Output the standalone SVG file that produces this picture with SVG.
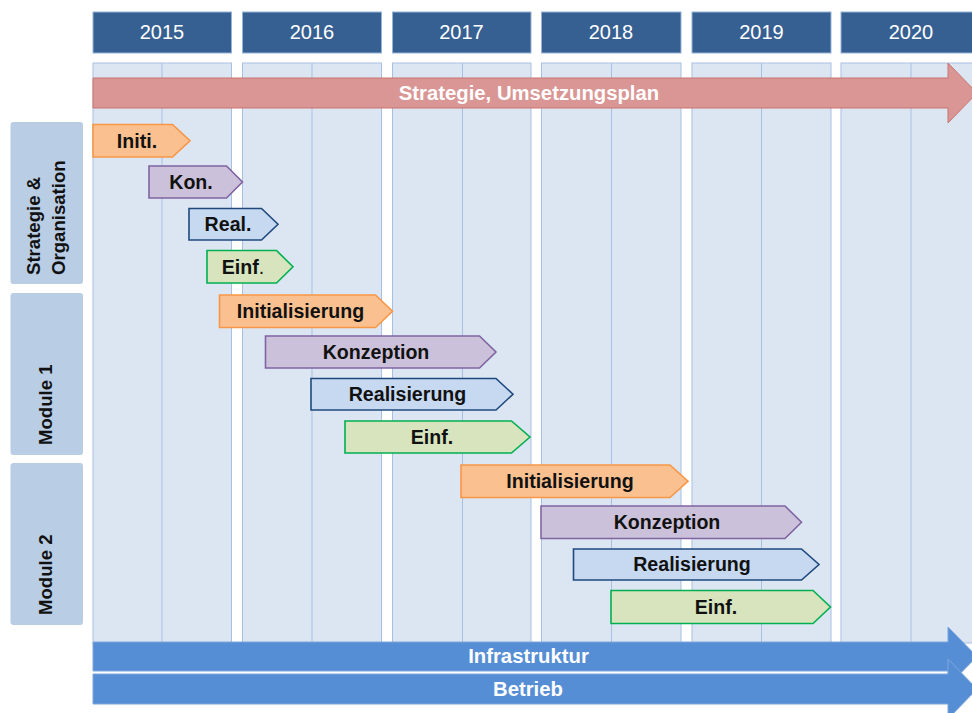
<svg xmlns="http://www.w3.org/2000/svg" width="972" height="713" viewBox="0 0 972 713">
<style>
.yr{fill:#376092;stroke:#95b3d7;stroke-width:1}
.yt{font-family:"Liberation Sans",Arial,sans-serif;font-size:20px;fill:#fff;text-anchor:middle}
.col{fill:#dce6f2;stroke:#a7c0e2;stroke-width:1}
.mid{stroke:#a7c0e2;stroke-width:1}
.lab{fill:#b9cde5}
.lt{font-family:"Liberation Sans",Arial,sans-serif;font-size:18.6px;font-weight:bold;fill:#111}
.ct{font-family:"Liberation Sans",Arial,sans-serif;font-size:19.6px;font-weight:bold;fill:#111;text-anchor:middle}
.wt{font-family:"Liberation Sans",Arial,sans-serif;font-size:20.3px;font-weight:bold;fill:#fff;text-anchor:middle}
.or{fill:#fac090;stroke:#f79646;stroke-width:1.6}
.pu{fill:#ccc1da;stroke:#8064a2;stroke-width:1.6}
.bl{fill:#c6d9f1;stroke:#1f497d;stroke-width:1.6}
.gr{fill:#d7e4bd;stroke:#00b050;stroke-width:1.6}
.red{fill:#d99694;stroke:#c87572;stroke-width:1}
.blu{fill:#558ed5;stroke:#7ea6dc;stroke-width:1}
</style>

<g id="columns">
<rect class="col" x="93" y="63" width="138.5" height="580"/>
<line class="mid" x1="162" y1="63" x2="162" y2="643"/>
<rect class="col" x="242.5" y="63" width="139" height="580"/>
<line class="mid" x1="312" y1="63" x2="312" y2="643"/>
<rect class="col" x="392.5" y="63" width="138.5" height="580"/>
<line class="mid" x1="462.5" y1="63" x2="462.5" y2="643"/>
<rect class="col" x="541.5" y="63" width="139.5" height="580"/>
<line class="mid" x1="611.5" y1="63" x2="611.5" y2="643"/>
<rect class="col" x="692" y="63" width="139" height="580"/>
<line class="mid" x1="761.5" y1="63" x2="761.5" y2="643"/>
<rect class="col" x="841" y="63" width="140" height="580"/>
<line class="mid" x1="911" y1="63" x2="911" y2="643"/>
</g>

<g id="years">
<g id="y2015"><rect class="yr" x="93" y="12" width="138.5" height="41"/><text class="yt" x="162" y="39">2015</text></g>
<g id="y2016"><rect class="yr" x="242.5" y="12" width="139" height="41"/><text class="yt" x="312" y="39">2016</text></g>
<g id="y2017"><rect class="yr" x="392.5" y="12" width="138.5" height="41"/><text class="yt" x="461.5" y="39">2017</text></g>
<g id="y2018"><rect class="yr" x="541.5" y="12" width="139.5" height="41"/><text class="yt" x="611" y="39">2018</text></g>
<g id="y2019"><rect class="yr" x="692" y="12" width="139" height="41"/><text class="yt" x="761.5" y="39">2019</text></g>
<g id="y2020"><rect class="yr" x="841" y="12" width="140" height="41"/><text class="yt" x="911" y="39">2020</text></g>
</g>

<g id="labels">
<g id="lab-so"><rect class="lab" x="10.5" y="122" width="72.5" height="162" rx="3"/>
<text class="lt" transform="translate(40,275) rotate(-90)">Strategie &amp;</text>
<text class="lt" transform="translate(65,275) rotate(-90)">Organisation</text></g>
<g id="lab-m1"><rect class="lab" x="10.5" y="293" width="72.5" height="162" rx="3"/>
<text class="lt" transform="translate(52,445) rotate(-90)">Module 1</text></g>
<g id="lab-m2"><rect class="lab" x="10.5" y="463" width="72.5" height="162" rx="3"/>
<text class="lt" transform="translate(52,615) rotate(-90)">Module 2</text></g>
</g>

<g id="strategy">
<path class="red" d="M93,78 H948 V63 L977,93 L948,123 V108 H93 Z"/>
<text class="wt" x="529" y="100">Strategie, Umsetzungsplan</text>
</g>

<g id="phases">
<g id="so-init"><path class="or" d="M93,124.5 H172.5 L190,140.75 L172.5,157 H93 Z"/><text class="ct" x="137" y="147.5">Initi.</text></g>
<g id="so-kon"><path class="pu" d="M149,166 H226.5 L242.5,182 L226.5,198 H149 Z"/><text class="ct" x="191" y="188.5">Kon.</text></g>
<g id="so-real"><path class="bl" d="M189,208.5 H261.5 L278,224.25 L261.5,240 H189 Z"/><text class="ct" x="228" y="231">Real.</text></g>
<g id="so-einf"><path class="gr" d="M207,250.5 H276.5 L293,266.75 L276.5,283 H207 Z"/><text class="ct" x="243" y="273.5">Einf<tspan font-weight="normal">.</tspan></text></g>

<g id="m1-init"><path class="or" d="M219.5,295 H375.5 L392.5,311.25 L375.5,327.5 H219.5 Z"/><text class="ct" x="300.5" y="318">Initialisierung</text></g>
<g id="m1-kon"><path class="pu" d="M265.5,336 H479.5 L496,352 L479.5,368 H265.5 Z"/><text class="ct" x="376" y="359">Konzeption</text></g>
<g id="m1-real"><path class="bl" d="M311,378.5 H496 L513,394.25 L496,410 H311 Z"/><text class="ct" x="407.5" y="401">Realisierung</text></g>
<g id="m1-einf"><path class="gr" d="M345,421 H511.5 L530,437 L511.5,453 H345 Z"/><text class="ct" x="432" y="443.5">Einf.</text></g>

<g id="m2-init"><path class="or" d="M461,465 H670 L688,481.25 L670,497.5 H461 Z"/><text class="ct" x="570" y="488">Initialisierung</text></g>
<g id="m2-kon"><path class="pu" d="M541,506 H785 L801.5,522.25 L785,538.5 H541 Z"/><text class="ct" x="667" y="529">Konzeption</text></g>
<g id="m2-real"><path class="bl" d="M573.5,549 H801.5 L819,564.5 L801.5,580 H573.5 Z"/><text class="ct" x="692" y="571">Realisierung</text></g>
<g id="m2-einf"><path class="gr" d="M611,590.5 H813 L830.5,607 L813,623.5 H611 Z"/><text class="ct" x="716" y="613.5">Einf.</text></g>
</g>

<g id="infrastruktur">
<path class="blu" d="M93,642 H948 V627 L977,656.5 L948,686 V671 H93 Z"/>
<text class="wt" x="528.5" y="663">Infrastruktur</text>
</g>
<g id="betrieb">
<path class="blu" d="M93,674 H948 V659 L977,689 L948,719 V704 H93 Z"/>
<text class="wt" x="528" y="696">Betrieb</text>
</g>
<g id="connectors"/>
</svg>
